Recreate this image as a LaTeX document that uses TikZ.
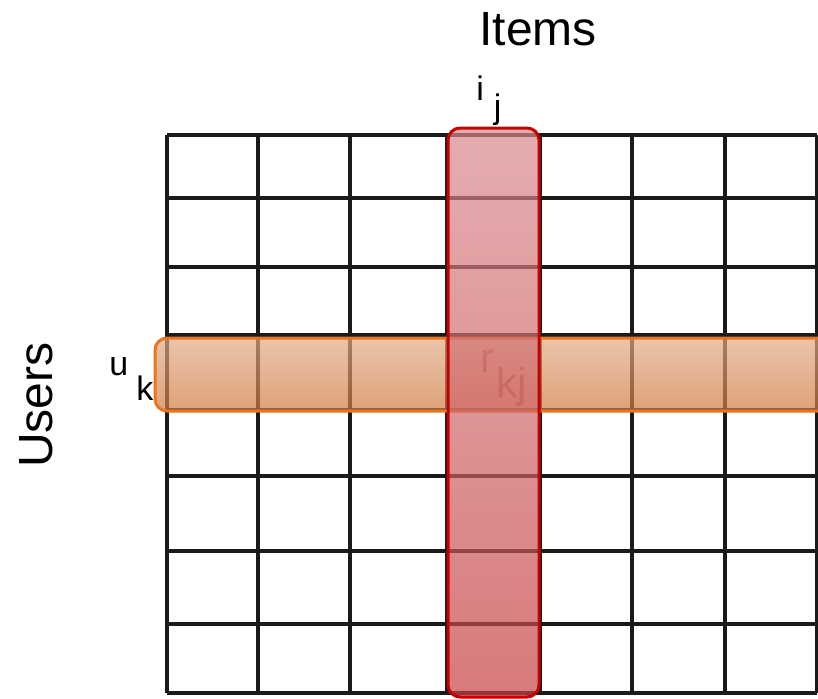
\documentclass[tikz,border=0pt]{standalone}
\usepackage{fontspec}
\setmainfont{Liberation Sans}
\usepackage{xcolor}
\usepackage{tikz}
\usetikzlibrary{positioning}

\definecolor{gridline}{HTML}{1A1A1A}
\definecolor{itemedge}{HTML}{C40000}
\definecolor{itemtop}{HTML}{D88A8E}
\definecolor{itembot}{HTML}{C64244}
\definecolor{useredge}{HTML}{E8761E}
\definecolor{usertop}{HTML}{E0AB86}
\definecolor{userbot}{HTML}{D07A41}
\definecolor{ratingtext}{HTML}{7A2828}

\begin{document}
\begin{tikzpicture}[
    x=0.5pt, y=-0.5pt,
    gridrule/.style={draw=gridline, line width=2pt},
    band/.style={rounded corners=6pt, line width=1.5pt, fill opacity=0.7},
    itemband/.style={band, draw=itemedge, top color=itemtop, bottom color=itembot},
    userband/.style={band, draw=useredge, top color=usertop, bottom color=userbot},
    axislabel/.style={font=\fontsize{24}{28}\selectfont, inner sep=0pt},
    letter/.style={font=\fontsize{17}{20}\selectfont, inner sep=0pt, anchor=base west}
]
\useasboundingbox (0,0) rectangle (818,698);

% Axis titles
\node[axislabel, anchor=base] (items) at (538,45) {Items};
\node[axislabel, anchor=base, rotate=90] (users) at (52,405) {Users};

% Rating matrix
\foreach \y in {135,198,267,335,410,476,551,624,693}
    \draw[gridrule] (167,\y) -- (817,\y);
\foreach \x in {167,258,350,447,540,632,725,817}
    \draw[gridrule] (\x,135) -- (\x,693);

% Rating entry (under the bands)
\node[letter, font=\fontsize{21}{24}\selectfont, text=ratingtext] (rkj) at (480,372)
    {r\hspace{1pt}\raisebox{-12.5pt}{kj}};

% User row k
\draw[userband] (155,338) rectangle (840,411);

% Item column j
\draw[itemband] (448,128) rectangle (539,697);

% Row and column labels
\node[letter] (ij) at (476,100) {i\hspace{5pt}\raisebox{-9pt}{j}};
\node[letter] (uk) at (109,375) {u\hspace{4pt}\raisebox{-12.5pt}{k}};

\end{tikzpicture}
\end{document}
